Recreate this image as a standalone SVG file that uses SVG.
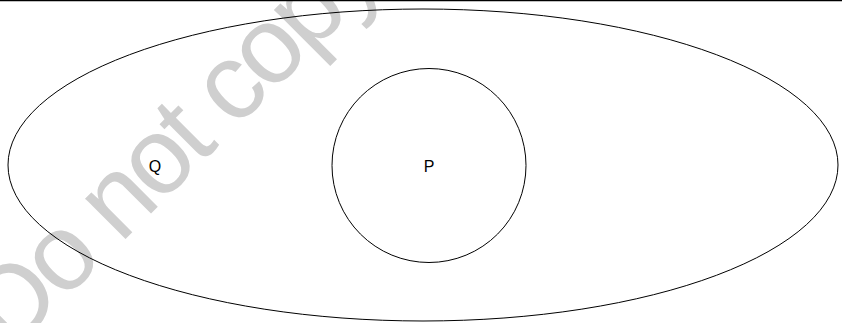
<svg xmlns="http://www.w3.org/2000/svg" width="842" height="323" viewBox="0 0 842 323">
<style>
.shape{fill:none;stroke:#000;stroke-width:1}
.lbl{font-family:"Liberation Sans",Arial,sans-serif;font-size:16px;fill:#000;text-anchor:middle}
.wm{font-family:"Liberation Sans",Arial,sans-serif;font-size:108px;letter-spacing:-4.5px;fill:#cfcfcf}
</style>
<rect width="842" height="323" fill="#fff"/>
<text class="wm" transform="translate(11,353.5) rotate(-45)">Do not copy</text>
<line x1="0" y1="0.5" x2="842" y2="0.5" stroke="#000" stroke-width="1.5"/>
<g id="Q">
<ellipse class="shape" cx="423" cy="165" rx="415" ry="156"/>
<text class="lbl" x="155" y="172">Q</text>
</g>
<g id="P">
<circle class="shape" cx="429" cy="165.5" r="97"/>
<text class="lbl" x="429" y="172">P</text>
</g>
<g id="connectors"></g>
</svg>
